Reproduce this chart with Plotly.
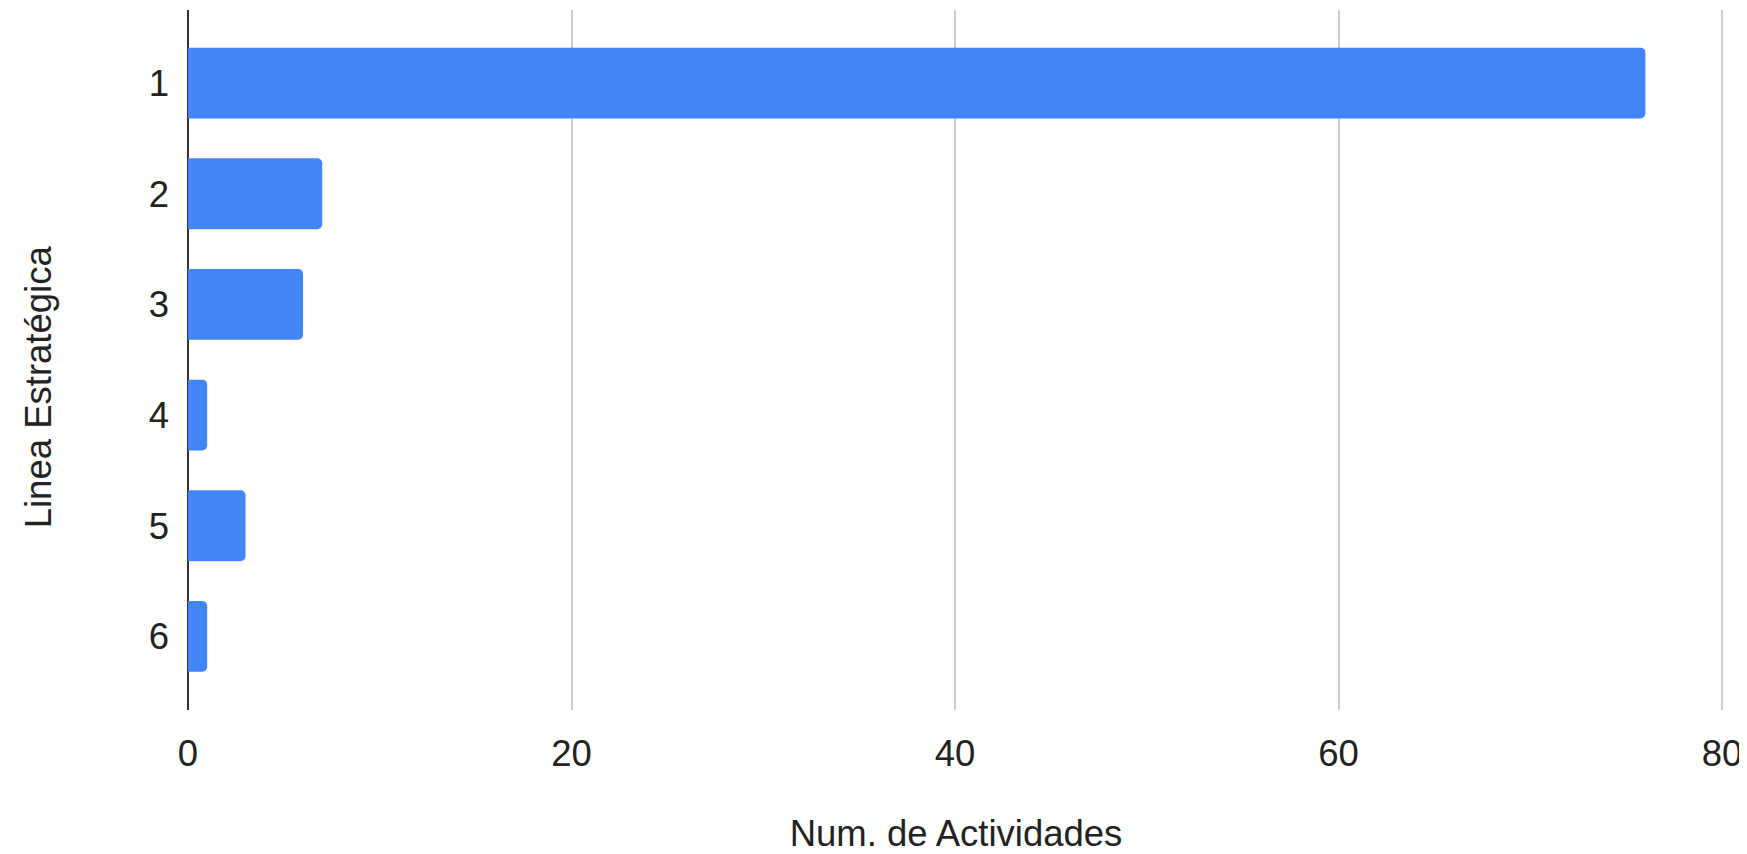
import plotly.graph_objects as go

lineas = ["1", "2", "3", "4", "5", "6"]
actividades = [76, 7, 6, 1, 3, 1]
x_ticks = [0, 20, 40, 60, 80]

FONT = "Liberation Sans, Arial, sans-serif"
FS = 36.5

fig = go.Figure(
    go.Bar(
        x=actividades,
        y=lineas,
        orientation="h",
        marker=dict(color="#4285F4", line=dict(width=0)),
        hoverinfo="x+y",
    )
)

fig.update_layout(
    width=1739,
    height=846,
    margin=dict(l=180, r=23, t=2, b=144),
    paper_bgcolor="white",
    plot_bgcolor="white",
    bargap=0.36,
    barcornerradius=5,
    showlegend=False,
    font=dict(family=FONT, size=FS, color="#222222"),
    xaxis=dict(
        range=[0, 80.1],
        tickvals=x_ticks,
        showgrid=True,
        gridcolor="#cccccc",
        gridwidth=2,
        zeroline=True,
        zerolinecolor="#333333",
        zerolinewidth=2,
        showline=False,
        ticks="",
        ticklabelstandoff=18,
        tickfont=dict(family=FONT, size=FS, color="#222222"),
        title=dict(text="Num. de Actividades", font=dict(family=FONT, size=FS, color="#222222"), standoff=48),
    ),
    yaxis=dict(
        categoryorder="array",
        categoryarray=lineas,
        range=[5.665, -0.66],
        showgrid=False,
        zeroline=False,
        showline=False,
        ticks="",
        ticklabelstandoff=18,
        tickfont=dict(family=FONT, size=FS, color="#222222"),
    ),
    annotations=[
        dict(
            text="Linea Estratégica",
            textangle=-90,
            xref="paper",
            yref="paper",
            x=0.0,
            xshift=-150,
            y=0.461,
            xanchor="center",
            yanchor="middle",
            showarrow=False,
            font=dict(family=FONT, size=FS, color="#222222"),
        )
    ],
)

fig.write_html("out.html")
